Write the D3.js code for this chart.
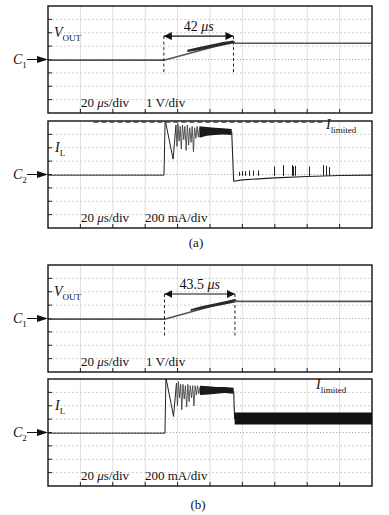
<!DOCTYPE html>
<html>
<head>
<meta charset="utf-8">
<script src="https://cdn.jsdelivr.net/npm/d3@7"></script>
<style>
  body { margin: 0; background: #fff; }
  svg { display: block; }
  text { font-family: "Liberation Serif", "DejaVu Serif", serif; fill: #111; }
</style>
</head>
<body>
<div id="chart"></div>
<script>
// ============================================
// data: time in µs (20 µs/div), level in div
// ============================================
const timeDivs = [0, 20, 40, 60, 80, 100, 120, 140, 160, 180, 200];
const levelDivs = [-4, -3, -2, -1, 0, 1, 2, 3, 4];

// (a) V_OUT
const vOutA = [[0, -0.05], [71.5, -0.05], [114.5, 1.35], [115.5, 1.22], [200, 1.22]];
const vOutRippleA = [[86, 0.56, 0.72], [92, 0.68, 0.9], [100, 0.86, 1.1], [108, 1.04, 1.3], [114.3, 1.2, 1.42]];
const rampA = [71.5, 114.5];

// (a) I_L
const iLStartA = [[0, -0.05], [71.6, -0.05], [72.3, 4.1], [77.2, 1.15], [79, 3.7]];
const iLBurstA = [[79, 3.7], [79.6, 2.1], [80.2, 3.8], [80.9, 2.5], [81.6, 3.6], [82.3, 1.9], [83, 3.7],
  [83.8, 2.6], [84.5, 3.6], [85.3, 1.8], [86, 3.7], [86.8, 2.2], [87.5, 3.5], [88.3, 2.4], [89, 3.6],
  [89.8, 1.7], [90.5, 3.5], [91.3, 2.7], [92, 3.6], [92.8, 2.8], [93.5, 3.5]];
const iLBandA = [[93.5, 2.75, 3.6], [98, 2.9, 3.55], [103, 2.95, 3.5], [108, 3.0, 3.45], [113.4, 2.95, 3.4]];
const iLTailA = [[113.4, 3.2], [114.6, -0.5], [120, -0.4], [140, -0.25], [160, -0.15], [180, -0.08], [200, -0.05]];
const spikesA = [[117.9, 0.2], [119.8, 0.25], [121.6, 0.25], [124.1, 0.3], [126.5, 0.3], [129.6, 0.3],
  [139.5, 0.6], [145, 0.7], [150.6, 0.7], [151.2, 0.6], [152.5, 0.65], [161, 0.6], [169.8, 0.7],
  [171.6, 0.65], [173.5, 0.55]];
const limitLevelA = 3.95;
const limitSpanA = [28, 171];

// (b) V_OUT
const vOutB = [[0, -0.05], [71.9, -0.05], [115.4, 1.4], [116.4, 1.28], [200, 1.28]];
const vOutRippleB = [[88, 0.56, 0.7], [94, 0.7, 0.9], [102, 0.88, 1.1], [110, 1.06, 1.3], [115.2, 1.2, 1.44]];
const rampB = [71.9, 115.4];

// (b) I_L
const iLStartB = [[0, -0.05], [72.2, -0.05], [72.8, 4.1], [77.5, 1.2], [79.3, 3.7]];
const iLBurstB = [[79.3, 3.7], [79.9, 2.0], [80.5, 3.8], [81.2, 2.6], [81.9, 3.6], [82.6, 1.7], [83.3, 3.6],
  [84.1, 2.5], [84.8, 3.5], [85.6, 1.9], [86.3, 3.6], [87.1, 2.3], [87.8, 3.5], [88.6, 2.6], [89.3, 3.5],
  [90.1, 2.0], [90.8, 3.5], [91.6, 2.8], [92.3, 3.5], [93.1, 2.9], [93.8, 3.4]];
const iLBandB = [[93.8, 2.8, 3.5], [99, 2.85, 3.45], [104, 2.9, 3.4], [109, 2.95, 3.4], [114.6, 2.9, 3.35]];
const iLTailB = [[114.6, 3.1], [115.2, 1.0]];
const iLRippleB = [[115.2, 0.6, 1.5], [200, 0.6, 1.5]];

// ============================================
// layout
// ============================================
const W = 389, H = 515;
const left = 48, right = 372, ph = 107;
const panelTops = [6, 121, 265, 379];

const svg = d3.select('#chart').append('svg')
  .attr('width', W).attr('height', H);

const x = d3.scaleLinear().domain([0, 200]).range([left, right]);

function makeY(top) {
  return d3.scaleLinear().domain([-4, 4]).range([top + ph, top]);
}

function drawFrame(top, id) {
  const y = makeY(top);
  const g = svg.append('g');

  // 세로 그리드
  g.selectAll('.vg').data(timeDivs.slice(1, -1)).enter().append('line')
    .attr('x1', d => x(d)).attr('x2', d => x(d))
    .attr('y1', top).attr('y2', top + ph)
    .attr('stroke', '#d4d4d4').attr('stroke-width', 0.8);

  // 가로 그리드
  g.selectAll('.hg').data(levelDivs.slice(1, -1).filter(d => d !== 0)).enter().append('line')
    .attr('x1', left).attr('x2', right)
    .attr('y1', d => y(d)).attr('y2', d => y(d))
    .attr('stroke', '#c4c4c4').attr('stroke-width', 0.8)
    .attr('stroke-dasharray', '2,2');

  // 중심선 (minor ticks)
  g.append('line')
    .attr('x1', left).attr('x2', right)
    .attr('y1', y(0)).attr('y2', y(0))
    .attr('stroke', '#999').attr('stroke-width', 1)
    .attr('stroke-dasharray', '1,2.2');

  // 눈금
  g.selectAll('.lt').data(levelDivs.slice(1, -1)).enter().append('line')
    .attr('x1', left).attr('x2', left + 4)
    .attr('y1', d => y(d)).attr('y2', d => y(d))
    .attr('stroke', '#222').attr('stroke-width', 1);
  g.selectAll('.bt').data(timeDivs.slice(1, -1)).enter().append('line')
    .attr('x1', d => x(d)).attr('x2', d => x(d))
    .attr('y1', top + ph).attr('y2', top + ph - 4)
    .attr('stroke', '#222').attr('stroke-width', 1);

  // clip
  svg.append('clipPath').attr('id', id)
    .append('rect').attr('x', left).attr('y', top).attr('width', right - left).attr('height', ph);

  return y;
}

function drawBorder(top) {
  svg.append('rect')
    .attr('x', left).attr('y', top).attr('width', right - left).attr('height', ph)
    .attr('fill', 'none').attr('stroke', '#111').attr('stroke-width', 1.4);
}

function trace(y, clip, data, color, width) {
  const line = d3.line().x(d => x(d[0])).y(d => y(d[1]));
  svg.append('path').datum(data)
    .attr('clip-path', `url(#${clip})`)
    .attr('fill', 'none').attr('stroke', color).attr('stroke-width', width)
    .attr('stroke-linejoin', 'round')
    .attr('d', line);
}

function band(y, clip, data, color) {
  const area = d3.area().x(d => x(d[0])).y0(d => y(d[1])).y1(d => y(d[2]));
  svg.append('path').datum(data)
    .attr('clip-path', `url(#${clip})`)
    .attr('fill', color).attr('d', area);
}

function label(gx, gy, main, sub, size, italicMain) {
  const t = svg.append('text').attr('x', gx).attr('y', gy).style('font-size', size + 'px');
  t.append('tspan').text(main).style('font-style', italicMain ? 'italic' : 'normal');
  if (sub) {
    t.append('tspan').text(sub)
      .attr('dy', 4)
      .style('font-size', '9px');
  }
  return t;
}

function channelMarker(yy, name, num) {
  svg.append('line').attr('x1', 27).attr('x2', 40).attr('y1', yy).attr('y2', yy)
    .attr('stroke', '#111').attr('stroke-width', 1);
  svg.append('path')
    .attr('d', `M${left},${yy} L${left - 11},${yy - 3.5} L${left - 11},${yy + 3.5} Z`)
    .attr('fill', '#111');
  label(13, yy + 4.5, name, num, 14, true);
}

function scaleText(top, second) {
  const t = svg.append('text').attr('x', 81).attr('y', top + ph - 6).style('font-size', '13px');
  t.append('tspan').text('20 ');
  t.append('tspan').text('μ').style('font-style', 'italic');
  t.append('tspan').text('s/div');
  svg.append('text').attr('x', second[0]).attr('y', top + ph - 6).style('font-size', '13px').text(second[1]);
}

function timeMarker(y, span, level, bottom, txt, top) {
  const defsId = 'arr' + top;
  const defs = svg.append('defs');
  defs.append('marker').attr('id', defsId).attr('viewBox', '0 0 10 10')
    .attr('refX', 10).attr('refY', 5).attr('markerWidth', 8).attr('markerHeight', 8)
    .attr('orient', 'auto-start-reverse').attr('markerUnits', 'userSpaceOnUse')
    .append('path').attr('d', 'M0,0 L10,5 L0,10 Z').attr('fill', '#111');

  span.forEach(t => {
    svg.append('line')
      .attr('x1', x(t)).attr('x2', x(t))
      .attr('y1', y(level)).attr('y2', y(bottom))
      .attr('stroke', '#222').attr('stroke-width', 1)
      .attr('stroke-dasharray', '3,2.5');
  });
  svg.append('line')
    .attr('x1', x(span[0])).attr('x2', x(span[1]))
    .attr('y1', y(level)).attr('y2', y(level))
    .attr('stroke', '#111').attr('stroke-width', 1.2)
    .attr('marker-start', `url(#${defsId})`).attr('marker-end', `url(#${defsId})`);
  const t = svg.append('text')
    .attr('x', (x(span[0]) + x(span[1])) / 2).attr('y', y(level) - 5)
    .attr('text-anchor', 'middle').style('font-size', '14px');
  t.append('tspan').text(txt + ' ');
  t.append('tspan').text('μs').style('font-style', 'italic');
}

// ============================================
// (a) V_OUT
// ============================================
{
  const top = panelTops[0];
  const y = drawFrame(top, 'c0');
  trace(y, 'c0', vOutA, '#555', 1.6);
  band(y, 'c0', vOutRippleA, '#2a2a2a');
  timeMarker(y, rampA, 1.75, -1.15, '42', top);
  drawBorder(top);
  label(54, top + 31, 'V', 'OUT', 14, true);
  channelMarker(y(0), 'C', '1');
  scaleText(top, [146, '1 V/div']);
}

// ============================================
// (a) I_L
// ============================================
{
  const top = panelTops[1];
  const y = drawFrame(top, 'c1');
  trace(y, 'c1', iLStartA, '#222', 1);
  trace(y, 'c1', iLBurstA, '#333', 0.8);
  band(y, 'c1', iLBandA, '#1a1a1a');
  trace(y, 'c1', iLTailA, '#222', 1.1);
  spikesA.forEach(s => {
    svg.append('line')
      .attr('x1', Math.round(x(s[0])) + 0.5).attr('x2', Math.round(x(s[0])) + 0.5)
      .attr('y1', y(-0.1)).attr('y2', y(s[1]))
      .attr('stroke', '#222').attr('stroke-width', 1);
  });
  drawBorder(top);
  svg.append('line')
    .attr('x1', x(limitSpanA[0])).attr('x2', x(limitSpanA[1]))
    .attr('y1', y(limitLevelA)).attr('y2', y(limitLevelA))
    .attr('stroke', '#444').attr('stroke-width', 2)
    .attr('stroke-dasharray', '5,3');
  label(326, top + 8, 'I', 'limited', 14, true);
  label(55, top + 31, 'I', 'L', 14, true);
  channelMarker(y(0), 'C', '2');
  scaleText(top, [145, '200 mA/div']);
  svg.append('text').attr('x', 196).attr('y', 247).attr('text-anchor', 'middle')
    .style('font-size', '13px').text('(a)');
}

// ============================================
// (b) V_OUT
// ============================================
{
  const top = panelTops[2];
  const y = drawFrame(top, 'c2');
  trace(y, 'c2', vOutB, '#555', 1.6);
  band(y, 'c2', vOutRippleB, '#2a2a2a');
  timeMarker(y, rampB, 1.83, -1.3, '43.5', top);
  drawBorder(top);
  label(54, top + 31, 'V', 'OUT', 14, true);
  channelMarker(y(0), 'C', '1');
  scaleText(top, [146, '1 V/div']);
}

// ============================================
// (b) I_L
// ============================================
{
  const top = panelTops[3];
  const y = drawFrame(top, 'c3');
  trace(y, 'c3', iLStartB, '#222', 1);
  trace(y, 'c3', iLBurstB, '#333', 0.8);
  band(y, 'c3', iLBandB, '#1a1a1a');
  trace(y, 'c3', iLTailB, '#222', 1.1);
  band(y, 'c3', iLRippleB, '#111');
  drawBorder(top);
  label(316, top + 10, 'I', 'limited', 14, true);
  label(55, top + 31, 'I', 'L', 14, true);
  channelMarker(y(0), 'C', '2');
  scaleText(top, [145, '200 mA/div']);
  svg.append('text').attr('x', 198).attr('y', 509).attr('text-anchor', 'middle')
    .style('font-size', '13px').text('(b)');
}
</script>
</body>
</html>
